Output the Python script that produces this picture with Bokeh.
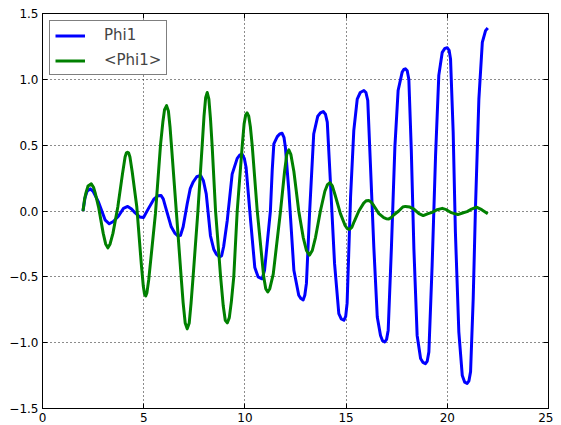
from bokeh.plotting import figure
from bokeh.models import Range1d, FixedTicker, LinearAxis, Legend, LegendItem
from bokeh.embed import file_html
from bokeh.resources import INLINE

# ---- data ----
phi1_x = [2.0, 2.1, 2.2, 2.36, 2.5, 2.77, 3.1, 3.3, 3.5, 3.75,
          4.0, 4.21, 4.4, 4.58, 4.8, 4.99, 5.24, 5.5, 5.7, 5.86,
          5.97, 6.08, 6.36, 6.55, 6.7, 6.82, 6.95, 7.15, 7.3, 7.44,
          7.62, 7.81, 7.95, 8.09, 8.3, 8.46, 8.6, 8.75, 8.85, 8.95,
          9.13, 9.37, 9.62, 9.75, 9.87, 9.97, 10.06, 10.28, 10.49, 10.65,
          10.85, 10.97, 11.1, 11.26, 11.35, 11.43, 11.6, 11.72, 11.84, 11.93,
          12.0, 12.17, 12.42, 12.66, 12.77, 12.88, 12.96, 13.04, 13.2, 13.4,
          13.6, 13.73, 13.87, 13.98, 14.07, 14.23, 14.43, 14.64, 14.76, 14.89,
          14.98, 15.05, 15.22, 15.38, 15.55, 15.7, 15.88, 15.98, 16.07, 16.2,
          16.37, 16.54, 16.7, 16.8, 16.91, 17.0, 17.08, 17.24, 17.41, 17.57,
          17.77, 17.85, 17.93, 18.02, 18.1, 18.22, 18.35, 18.51, 18.68, 18.8,
          18.92, 19.01, 19.09, 19.25, 19.42, 19.58, 19.75, 19.88, 20.0, 20.09,
          20.16, 20.29, 20.4, 20.57, 20.74, 20.86, 20.98, 21.07, 21.15, 21.28,
          21.39, 21.56, 21.73, 21.89, 22.0]
phi1_y = [0.0, 0.1, 0.15, 0.168, 0.15, 0.067, -0.07, -0.097, -0.08, -0.04,
          0.02, 0.035, 0.015, -0.015, -0.045, -0.05, 0.02, 0.09, 0.115, 0.118,
          0.09, 0.03, -0.12, -0.17, -0.19, -0.185, -0.12, 0.055, 0.17, 0.22,
          0.26, 0.27, 0.23, 0.13, -0.19, -0.29, -0.33, -0.35, -0.34, -0.27,
          -0.07, 0.28, 0.4, 0.425, 0.43, 0.4, 0.33, -0.07, -0.43, -0.5,
          -0.515, -0.45, -0.25, 0.0, 0.31, 0.51, 0.565, 0.585, 0.59, 0.56,
          0.485, 0.155, -0.45, -0.64, -0.665, -0.675, -0.64, -0.55, 0.0, 0.585,
          0.72, 0.745, 0.755, 0.735, 0.675, 0.205, -0.4, -0.78, -0.82, -0.83,
          -0.8, -0.7, 0.105, 0.61, 0.85, 0.9, 0.915, 0.9, 0.84, 0.36,
          -0.275, -0.805, -0.945, -0.985, -0.995, -0.975, -0.905, -0.275, 0.485, 0.915,
          1.055, 1.075, 1.08, 1.065, 1.0, 0.47, -0.29, -0.945, -1.12, -1.15,
          -1.16, -1.14, -1.07, -0.415, 0.42, 1.03, 1.205, 1.235, 1.24, 1.22,
          1.155, 0.6, -0.16, -0.92, -1.25, -1.3, -1.31, -1.29, -1.22, -0.665,
          0.015, 0.85, 1.28, 1.37, 1.39]

avg_x = [2.0, 2.08, 2.15, 2.25, 2.41, 2.52, 2.6, 2.77, 3.0, 3.12,
         3.23, 3.34, 3.48, 3.72, 3.95, 4.08, 4.14, 4.2, 4.26, 4.32,
         4.43, 4.66, 4.88, 4.98, 5.04, 5.1, 5.16, 5.25, 5.58, 5.83,
         5.95, 6.03, 6.13, 6.22, 6.3, 6.36, 6.62, 6.85, 6.95, 7.05,
         7.15, 7.25, 7.34, 7.44, 7.67, 7.89, 7.98, 8.06, 8.14, 8.22,
         8.3, 8.38, 8.55, 8.8, 8.93, 9.03, 9.13, 9.23, 9.33, 9.45,
         9.62, 9.87, 9.96, 10.04, 10.11, 10.19, 10.27, 10.36, 10.61, 10.93,
         11.03, 11.13, 11.23, 11.4, 11.76, 11.96, 12.07, 12.17, 12.27, 12.42,
         12.66, 12.88, 13.04, 13.19, 13.33, 13.49, 13.73, 13.95, 14.08, 14.2,
         14.32, 14.46, 14.72, 14.95, 15.06, 15.17, 15.28, 15.4, 15.63, 15.87,
         16.0, 16.12, 16.24, 16.37, 16.62, 16.86, 16.98, 17.11, 17.23, 17.35,
         17.6, 17.8, 17.93, 18.15, 18.35, 18.6, 18.81, 19.05, 19.25, 19.5,
         19.75, 19.95, 20.16, 20.35, 20.52, 20.75, 20.98, 21.2, 21.44, 21.7,
         22.0]
avg_y = [0.0, 0.09, 0.14, 0.19, 0.206, 0.18, 0.14, 0.03, -0.17, -0.25,
         -0.28, -0.25, -0.17, 0.03, 0.28, 0.41, 0.44, 0.446, 0.44, 0.41,
         0.3, 0.03, -0.4, -0.57, -0.63, -0.645, -0.62, -0.52, -0.02, 0.5,
         0.68, 0.77, 0.8, 0.76, 0.64, 0.52, -0.02, -0.5, -0.7, -0.85,
         -0.895, -0.85, -0.7, -0.5, -0.02, 0.5, 0.72, 0.86, 0.9, 0.85,
         0.7, 0.5, 0.0, -0.5, -0.72, -0.83, -0.85, -0.81, -0.69, -0.5,
         0.0, 0.5, 0.66, 0.73, 0.745, 0.72, 0.64, 0.5, 0.0, -0.5,
         -0.59, -0.615, -0.59, -0.48, 0.0, 0.3, 0.43, 0.465, 0.43, 0.3,
         0.0, -0.2, -0.3, -0.335, -0.3, -0.2, 0.0, 0.15, 0.2, 0.215,
         0.19, 0.12, -0.02, -0.11, -0.135, -0.14, -0.125, -0.08, 0.0, 0.06,
         0.078, 0.08, 0.068, 0.04, -0.02, -0.05, -0.058, -0.06, -0.05, -0.03,
         0.0, 0.03, 0.035, 0.03, 0.015, -0.02, -0.035, -0.02, -0.01, 0.01,
         0.02, 0.01, -0.01, -0.02, -0.027, -0.015, -0.005, 0.015, 0.03, 0.01,
         -0.02]

series_names = ["Phi1", "<Phi1>"]
x_ticks = [0, 5, 10, 15, 20, 25]
x_tick_labels = ["0", "5", "10", "15", "20", "25"]
y_ticks = [-1.5, -1.0, -0.5, 0.0, 0.5, 1.0, 1.5]
y_tick_labels = ["\u22121.5", "\u22121.0", "\u22120.5", "0.0", "0.5", "1.0", "1.5"]

FONT = "DejaVu Sans"

p = figure(output_backend="svg", toolbar_location=None,
           frame_width=506, frame_height=395,
           x_range=Range1d(0, 25), y_range=Range1d(-1.5, 1.5),
           min_border_left=42, min_border_top=13, min_border_right=5, min_border_bottom=16,
           background_fill_color="white", border_fill_color="white")
p.outline_line_color = "black"
p.outline_line_width = 1

r1 = p.line(phi1_x, phi1_y, line_color="#0000ff", line_width=3, line_join="round")
r2 = p.line(avg_x, avg_y, line_color="#008000", line_width=3, line_join="round")

def style_main_axis(ax, ticks, labels):
    ax.ticker = FixedTicker(ticks=ticks)
    ax.major_label_overrides = {t: l for t, l in zip(ticks, labels)}
    ax.major_tick_in = 5
    ax.major_tick_out = 0
    ax.minor_tick_in = 0
    ax.minor_tick_out = 0
    ax.major_tick_line_color = "black"
    ax.axis_line_color = "black"
    ax.major_label_text_font = FONT
    ax.major_label_text_color = "black"
    ax.major_label_text_font_size = "12px"
    ax.major_label_standoff = 4

def style_mirror_axis(ax, ticks):
    # ticks only (drawn as minor ticks so no labels are produced)
    ax.ticker = FixedTicker(ticks=[], minor_ticks=ticks)
    ax.major_tick_in = 0
    ax.major_tick_out = 0
    ax.minor_tick_in = 5
    ax.minor_tick_out = 0
    ax.minor_tick_line_color = "black"
    ax.axis_line_color = "black"

style_main_axis(p.xaxis[0], x_ticks, x_tick_labels)
style_main_axis(p.yaxis[0], y_ticks, y_tick_labels)
top_ax = LinearAxis()
right_ax = LinearAxis()
style_mirror_axis(top_ax, x_ticks)
style_mirror_axis(right_ax, y_ticks)
p.add_layout(top_ax, "above")
p.add_layout(right_ax, "right")

for g in (p.xgrid[0], p.ygrid[0]):
    g.grid_line_color = "black"
    g.grid_line_dash = "1 3"
    g.grid_line_width = 1
    g.grid_line_alpha = 0.9
p.xgrid[0].ticker = FixedTicker(ticks=x_ticks)
p.ygrid[0].ticker = FixedTicker(ticks=y_ticks)

legend = Legend(items=[LegendItem(label=series_names[0], renderers=[r1]),
                       LegendItem(label=series_names[1], renderers=[r2])],
                location="top_left", margin=7, padding=5, spacing=7,
                glyph_width=30, glyph_height=17, label_height=17, label_standoff=19,
                label_text_font=FONT, label_text_font_size="15px",
                border_line_color="black", border_line_width=1,
                background_fill_color="white", background_fill_alpha=1.0)
p.add_layout(legend)

open("out.html", "w").write(file_html(p, INLINE))
